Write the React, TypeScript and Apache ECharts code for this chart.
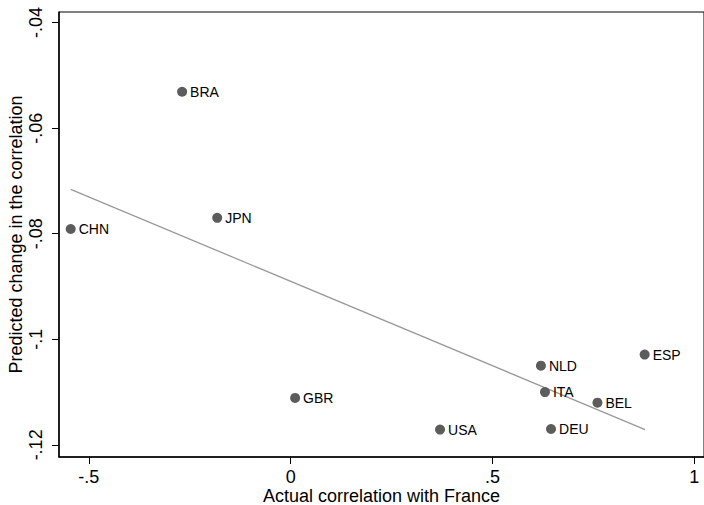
import React, { useEffect, useRef } from "react";
import * as echarts from "echarts";

const countries = ["BRA", "JPN", "CHN", "GBR", "USA", "DEU", "ITA", "BEL", "NLD", "ESP"];
const actualCorr = [-0.269, -0.182, -0.545, 0.011, 0.370, 0.645, 0.630, 0.760, 0.620, 0.877];
const predictedChange = [-0.0531, -0.0770, -0.0791, -0.1111, -0.1171, -0.1170, -0.1100, -0.1120, -0.1050, -0.1029];
const fitX = [-0.545, 0.878];
const fitY = [-0.0716, -0.1171];
const xTicks = [-0.5, 0, 0.5, 1];
const yTicks = [-0.12, -0.1, -0.08, -0.06, -0.04];

const stataFmt = (v: number) => {
  const r = Math.round(v * 1000) / 1000;
  if (r === 0) return "0";
  let s = String(r);
  s = s.replace(/^(-?)0\./, "$1.");
  return s;
};

const FONT = "Liberation Sans, Arial, Helvetica, sans-serif";

export default function App() {
  const ref = useRef<HTMLDivElement>(null);
  useEffect(() => {
    if (!ref.current) return;
    const chart = echarts.init(ref.current, null, { renderer: "svg" });
    chart.setOption({
      animation: false,
      backgroundColor: "#ffffff",
      grid: {
        left: 59,
        right: 0,
        top: 12,
        bottom: 48,
        outerBoundsMode: "none",
        containLabel: false,
        show: true,
        borderColor: "#000",
        borderWidth: 1,
        backgroundColor: "#fff",
      },
      xAxis: {
        type: "value",
        min: -0.574,
        max: 1.024,
        name: "Actual correlation with France",
        nameLocation: "middle",
        nameGap: 30,
        nameMoveOverlap: false,
        nameTextStyle: { fontFamily: FONT, fontSize: 18, lineHeight: 18, color: "#000" },
        axisLine: { show: true, onZero: false, lineStyle: { color: "#000", width: 1.5 } },
        axisTick: { show: true, length: 7, customValues: xTicks, lineStyle: { color: "#000" } },
        axisLabel: {
          customValues: xTicks,
          formatter: (v: number) => stataFmt(v),
          fontFamily: FONT,
          fontSize: 18,
          lineHeight: 18,
          color: "#000",
          margin: 11,
        },
        splitLine: { show: false },
      },
      yAxis: {
        type: "value",
        min: -0.1223,
        max: -0.038,
        name: "Predicted change in the correlation",
        nameLocation: "middle",
        nameGap: 34,
        nameRotate: 90,
        nameMoveOverlap: false,
        nameTextStyle: { fontFamily: FONT, fontSize: 18, color: "#000" },
        axisLine: { show: true, onZero: false, lineStyle: { color: "#000", width: 1.5 } },
        axisTick: { show: true, length: 7, customValues: yTicks, lineStyle: { color: "#000" } },
        axisLabel: {
          customValues: yTicks,
          formatter: (v: number) => stataFmt(v),
          rotate: 90,
          fontFamily: FONT,
          fontSize: 18,
          color: "#000",
          margin: 14,
        },
        splitLine: { show: false },
      },
      series: [
        {
          type: "line",
          data: fitX.map((x, i) => [x, fitY[i]]),
          symbol: "none",
          lineStyle: { color: "#999999", width: 1.3 },
          z: 1,
        },
        {
          type: "scatter",
          data: countries.map((c, i) => ({ name: c, value: [actualCorr[i], predictedChange[i]] })),
          symbolSize: 10,
          itemStyle: { color: "#5c5c5c", opacity: 1 },
          label: {
            show: true,
            position: "right",
            distance: 3,
            formatter: (p: any) => p.name,
            fontFamily: FONT,
            fontSize: 14,
            color: "#000",
          },
          z: 2,
        },
      ],
    });
    return () => chart.dispose();
  }, []);
  return (
    <div
      ref={ref}
      style={{ position: "absolute", left: 0, top: 0, width: 704, height: 505 }}
    />
  );
}
